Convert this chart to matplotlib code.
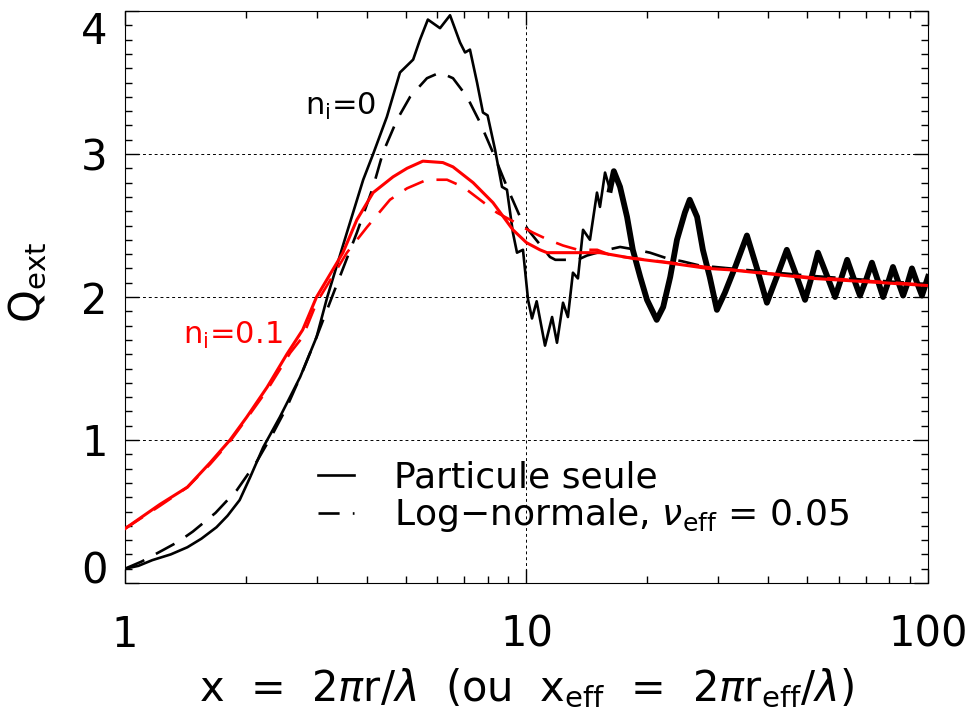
import numpy as np
import matplotlib
matplotlib.use('Agg')
import matplotlib.pyplot as plt
from matplotlib.ticker import FixedLocator, NullFormatter

plt.rcParams['font.family'] = ['DejaVu Sans']
plt.rcParams['mathtext.fontset'] = 'dejavusans'

# particule seule, n_i = 0 (Mie, courbe avec ondulations)
x_seule = [1.0, 1.08, 1.17, 1.3, 1.43, 1.55, 1.69, 1.8, 1.93, 2.05, 2.21, 2.43, 2.73,
           3.0, 3.19, 3.57, 3.92,
           4.15, 4.49, 4.84, 5.22, 5.43, 5.68, 6.09, 6.45, 6.83, 7.03, 7.23, 7.53,
           7.79, 8.0, 8.35, 8.69, 8.94, 9.25, 9.47, 9.80, 10.09, 10.32, 10.6, 11.12,
           11.58, 11.91, 12.33, 12.68, 13.05, 13.43, 13.83, 14.39, 14.98, 15.24, 15.69,
           16.14, 16.5, 17.1, 17.8, 18.4, 19.2, 19.96, 21.1, 21.9, 22.8, 23.7, 24.8,
           25.5, 26.6, 27.5, 28.6, 29.8, 31.2, 33.2, 35.4, 37.5, 39.7, 42.0, 44.5,
           47.0, 49.4, 51.3, 53.2, 56.0, 58.7, 60.8, 62.9, 65.3, 67.7, 70.1, 72.5,
           74.9, 77.3, 79.5, 81.8, 84.2, 86.7, 89.0, 91.2, 93.9, 96.6, 100.0]
q_seule = [0.10, 0.12, 0.16, 0.20, 0.25, 0.31, 0.39, 0.47, 0.58, 0.74, 0.95, 1.16, 1.44,
           1.72, 2.0, 2.45, 2.82,
           3.0, 3.26, 3.57, 3.66, 3.80, 3.94, 3.88, 3.97, 3.78, 3.71, 3.73, 3.50,
           3.29, 3.27, 3.03, 2.77, 2.75, 2.45, 2.31, 2.33, 1.98, 1.85, 1.97, 1.66,
           1.86, 1.68, 1.96, 1.86, 2.17, 2.13, 2.47, 2.40, 2.73, 2.63, 2.87,
           2.75, 2.88, 2.77, 2.56, 2.33, 2.14, 1.98, 1.84, 1.93, 2.14, 2.40, 2.59,
           2.68, 2.56, 2.33, 2.14, 1.91, 2.03, 2.22, 2.43, 2.20, 1.96, 2.14, 2.33,
           2.15, 1.98, 2.14, 2.31, 2.15, 2.00, 2.13, 2.26, 2.13, 2.01, 2.12, 2.24,
           2.12, 2.00, 2.10, 2.21, 2.11, 2.01, 2.10, 2.20, 2.10, 2.01, 2.14]

# log-normale, n_i = 0
x_lognorm = [1.0, 1.1, 1.243, 1.36, 1.476, 1.68, 1.90, 2.13, 2.33, 2.53, 2.76, 3.0,
             3.33, 3.78, 4.15, 4.39,
             4.76, 5.13, 5.65, 6.09, 6.56, 7.11, 7.66, 8.25, 8.94, 9.64, 10.09, 11.44,
             11.8, 13.4, 14.15, 15.9, 17.1, 18.8, 20.3, 22.4, 24.4, 27.0, 35.0, 50.0,
             70.0, 100.0]
q_lognorm = [0.10, 0.15, 0.23, 0.29, 0.36, 0.49, 0.65, 0.85, 1.04, 1.23, 1.47, 1.72,
             2.05, 2.45, 2.77, 3.01,
             3.24, 3.40, 3.53, 3.57, 3.53, 3.40, 3.22, 3.01, 2.77, 2.56, 2.47, 2.28,
             2.26, 2.26, 2.29, 2.33, 2.35, 2.33, 2.31, 2.27, 2.25, 2.22, 2.19, 2.15,
             2.12, 2.09]

# particule seule, n_i = 0.1
x_seule_abs = [1.0, 1.222, 1.43, 1.628, 1.826, 2.01, 2.26, 2.53, 2.77, 3.0, 3.49, 3.78,
               4.15, 4.65, 5.04, 5.52, 6.19, 6.56, 7.36, 8.25, 9.25, 10.0, 10.8, 11.25,
               11.91, 13.4, 15.24, 18.4, 22.4, 28.2, 32.1, 51.7, 100.0]
q_seule_abs = [0.38, 0.55, 0.67, 0.84, 1.0, 1.16, 1.37, 1.60, 1.77, 2.0, 2.31, 2.54,
               2.73, 2.84, 2.90, 2.95, 2.94, 2.91, 2.80, 2.66, 2.47, 2.38, 2.33, 2.31,
               2.31, 2.31, 2.31, 2.27, 2.24, 2.20, 2.19, 2.13, 2.08]

# log-normale, n_i = 0.1
x_lognorm_abs = [1.0, 1.222, 1.43, 1.628, 1.826, 2.01, 2.26, 2.58, 2.77, 3.0, 3.57, 4.01,
                 4.57, 5.04, 5.65, 6.34, 6.95, 7.66, 8.44, 9.25, 9.64, 10.38, 11.33, 12.33,
                 13.43, 15.0, 16.3, 20.0, 30.0, 50.0, 100.0]
q_lognorm_abs = [0.38, 0.54, 0.67, 0.83, 0.99, 1.15, 1.35, 1.61, 1.72, 1.96, 2.31, 2.49,
                 2.68, 2.76, 2.82, 2.82, 2.77, 2.68, 2.59, 2.53, 2.50, 2.45, 2.40, 2.36,
                 2.33, 2.33, 2.29, 2.26, 2.20, 2.14, 2.085]

fig = plt.figure(figsize=(9.7, 7.17), dpi=100)
ax = fig.add_axes([125/970, 1-583/717, 803/970, 572/717])

# grille pointillee
for yg in [1, 2, 3]:
    ax.axhline(yg, color='k', lw=0.7, ls=(0, (3, 3)), zorder=1)
ax.axvline(10, color='k', lw=0.7, ls=(0, (3, 3)), zorder=1)

l1, = ax.plot(x_seule, q_seule, color='k', lw=1.9, zorder=3)
# ondulations fines -> trait plus epais aux grands x
xs = np.array(x_seule)
m = xs >= 16
ax.plot(xs[m], np.array(q_seule)[m], color='k', lw=4.2, zorder=3,
        solid_joinstyle='round')
l2, = ax.plot(x_lognorm, q_lognorm, color='k', lw=1.9, dashes=(8, 5), zorder=3)
ax.plot(x_seule_abs, q_seule_abs, color='red', lw=2.2, zorder=4)
ax.plot(x_lognorm_abs, q_lognorm_abs, color='red', lw=1.9, dashes=(8, 5), zorder=4)

ax.set_xscale('log')
ax.set_xlim(1, 100)
ax.set_ylim(0, 4)
ax.xaxis.set_major_locator(FixedLocator([1, 10, 100]))
ax.set_xticklabels(['1', '10', '100'])
ax.xaxis.set_minor_locator(FixedLocator([2, 3, 4, 5, 6, 7, 8, 9, 20, 30, 40, 50, 60, 70, 80, 90]))
ax.xaxis.set_minor_formatter(NullFormatter())
ax.yaxis.set_major_locator(FixedLocator([0, 1, 2, 3, 4]))
ax.yaxis.set_minor_locator(FixedLocator(np.arange(0, 4.01, 0.1)))

ax.tick_params(which='both', direction='in', top=True, right=True, width=1)
ax.tick_params(which='major', length=10)
ax.tick_params(which='minor', length=5)
ax.tick_params(axis='x', labelsize=30, pad=22)
ax.tick_params(axis='y', labelsize=30, pad=22)
ylabs = ax.get_yticklabels()
for lab in ylabs:
    lab.set_horizontalalignment('center')
ylabs[0].set_verticalalignment('baseline')
ylabs[-1].set_verticalalignment('top')

ax.set_xlabel(r'x  =  2$\pi$r/$\lambda$  (ou  x$_{\rm eff}$  =  2$\pi$r$_{\rm eff}$/$\lambda$)',
              fontsize=30, labelpad=8)
ax.set_ylabel(r'Q$_{\rm ext}$', fontsize=30)
ax.yaxis.set_label_coords(-0.094, 0.526)

ax.text(2.81, 3.33, r'n$_{\rm i}$=0', fontsize=22, color='k', va='center', ha='left')
ax.text(1.395, 1.73, r'n$_{\rm i}$=0.1', fontsize=22, color='red', va='center', ha='left')

ax.legend([l1, l2], ['Particule seule', 'Log\u2212normale, $\\nu_{\\rm eff}$ = 0.05'],
          loc='lower left', bbox_to_anchor=(0.24, 0.085), frameon=False,
          fontsize=26, handlelength=1.0, handletextpad=1.1, borderpad=0,
          borderaxespad=0, labelspacing=0.05)

fig.savefig('out.png', dpi=100)
